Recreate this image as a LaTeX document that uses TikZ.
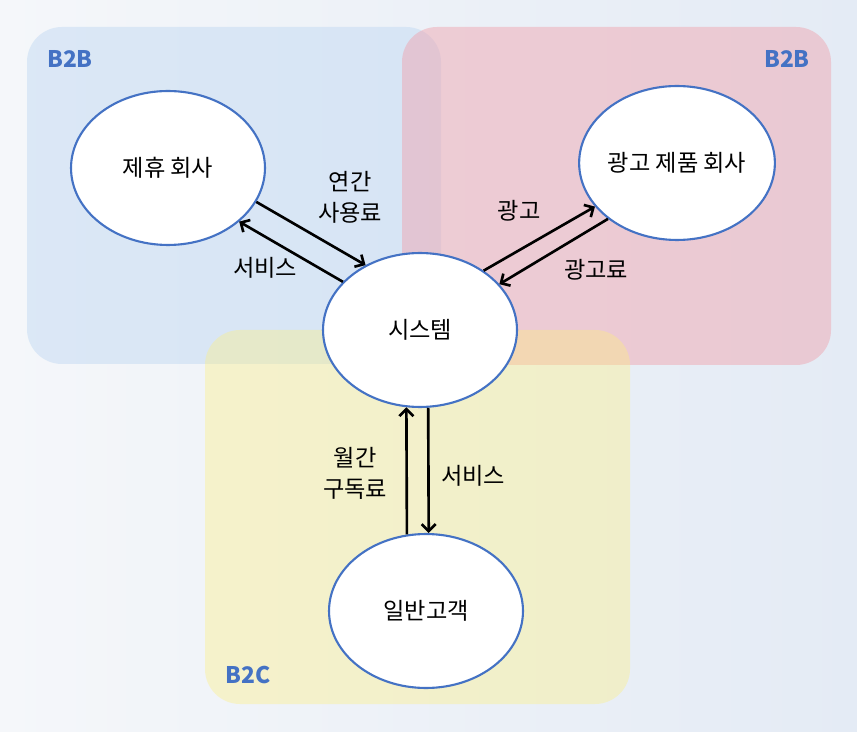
\documentclass[tikz,border=0pt]{standalone}
\usepackage{fontspec}
\setmainfont{Noto Sans CJK KR}
\usetikzlibrary{arrows.meta,shapes.geometric}
\definecolor{lineblue}{RGB}{68,114,196}
\definecolor{bgleft}{RGB}{245,247,250}
\definecolor{bgright}{RGB}{228,235,245}
\definecolor{zoneblue}{RGB}{195,218,243}
\definecolor{zonered}{RGB}{240,160,170}
\definecolor{zoneyellow}{RGB}{255,240,120}

\begin{document}
\begin{tikzpicture}[x=0.02cm,y=-0.02cm,
		party/.style={ellipse,draw=lineblue,line width=1.2pt,fill=white,minimum width=3.88cm,minimum height=3.08cm,inner sep=0pt,font=\fontsize{13.2}{17.6}\selectfont},
		flow/.style={-{Straight Barb[length=1.4mm,width=2.8mm]},line width=1.5pt},
		lbl/.style={align=center,font=\fontsize{13.2}{17.6}\selectfont},
		tag/.style={text=lineblue,font=\fontsize{13}{15}\selectfont\bfseries}]
			%%%%% START %%%%%
			\shade[left color=bgleft,right color=bgright] (0,0) rectangle (857,732);
			\useasboundingbox (0,0) rectangle (857,732);
			
			% zones
			\fill[zoneblue,fill opacity=0.5,rounded corners=0.7cm] (27,27) rectangle (441,364);
			\fill[zonered,fill opacity=0.45,rounded corners=0.7cm] (402,27) rectangle (831,365);
			\fill[zoneyellow,fill opacity=0.35,rounded corners=0.7cm] (205,330) rectangle (630,704);
			
			\node[tag] (tagl) at (70,59) {B2B};
			\node[tag] (tagr) at (787,59) {B2B};
			\node[tag] (tagc) at (248,675) {B2C};
			
			% parties
			\node[party] (jh) at (168,168) {제휴 회사};
			\node[party] (ad) at (677,163) {광고 제품 회사};
			\node[party] (sys) at (420,330) {시스템};
			\node[party] (usr) at (426,611) {일반고객};
			
			% flows
			\draw[flow] (jh.-21) -- (sys.130);
			\draw[flow] (sys.148) -- (jh.-37);
			\draw[flow] (sys.43) -- (ad.208);
			\draw[flow] (ad.219) -- (sys.30);
			\draw[flow] (usr.104) -- (sys.260);
			\draw[flow] (sys.276) -- (usr.88.5);
			
			\node[lbl] (fee1) at (350,197) {연간\\사용료};
			\node[lbl] (svc1) at (265,268) {서비스};
			\node[lbl] (adv) at (519,211) {광고};
			\node[lbl] (fee2) at (596,270) {광고료};
			\node[lbl] (fee3) at (355,473) {월간\\구독료};
			\node[lbl] (svc2) at (473,476) {서비스};
			%%%%% END %%%%%
		\end{tikzpicture}
\end{document}
